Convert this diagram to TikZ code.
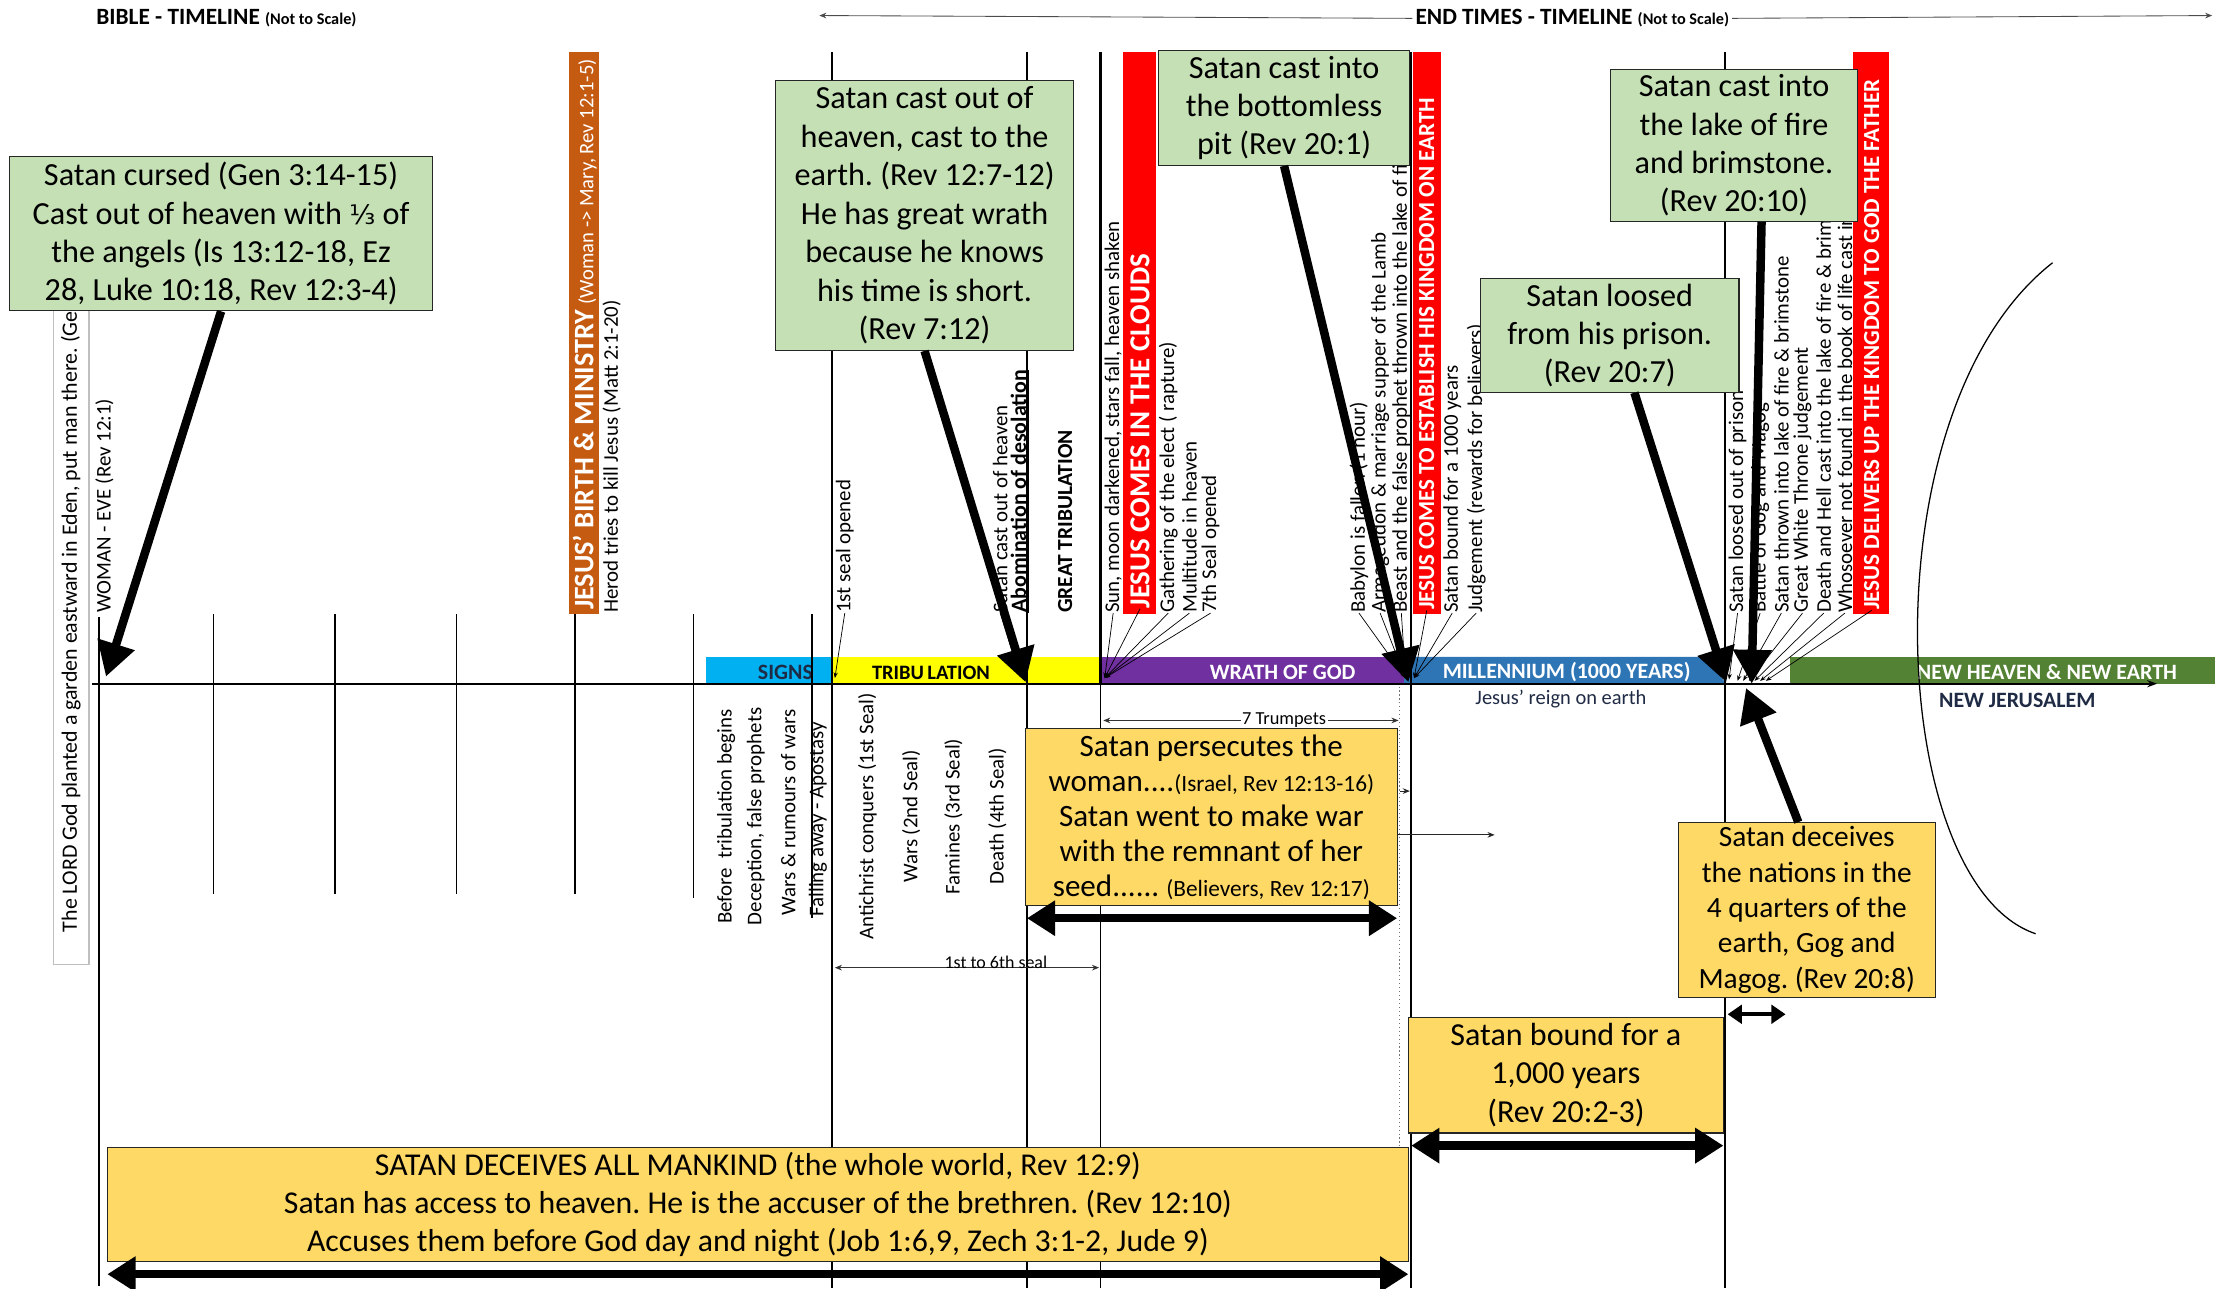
\documentclass[tikz,border=0pt]{standalone}
\usepackage{fontspec}
\setmainfont{Carlito}
\newfontfamily\symfont{DejaVu Sans}
\usetikzlibrary{arrows.meta}
\definecolor{gboxc}{HTML}{C5E0B4}
\definecolor{yboxc}{HTML}{FFD966}
\definecolor{redbar}{HTML}{FF0000}
\definecolor{orangebar}{HTML}{C55A11}
\definecolor{signsc}{HTML}{00B0F0}
\definecolor{tribc}{HTML}{FFFF00}
\definecolor{wrathc}{HTML}{7030A0}
\definecolor{millc}{HTML}{2E75B6}
\definecolor{newc}{HTML}{548235}
\definecolor{navyt}{HTML}{1F2A44}
\newcommand{\myfs}[2]{\fontsize{#1}{#2}\selectfont}
\tikzset{
  gbox/.style={draw=black!85, line width=0.8pt, fill=gboxc, align=center, inner sep=0pt, font=\myfs{22.8}{27.2}},
  ybox/.style={draw=black!85, line width=0.8pt, fill=yboxc, align=center, inner sep=0pt},
  vlab/.style={rotate=90, anchor=west, inner sep=0pt, font=\myfs{14.8}{15}},
  clab/.style={rotate=90, anchor=center, inner sep=0pt, font=\myfs{14.8}{15}},
  barlab/.style={rotate=90, anchor=west, inner sep=0pt, text=white, font=\bfseries\myfs{16.3}{17}},
  bandlab/.style={inner sep=0pt, font=\bfseries\myfs{15.5}{16}},
  tline/.style={line width=1.1pt},
  leader/.style={line width=0.5pt, -{Stealth[length=4pt,width=3pt]}},
  bigarrow/.style={line width=6pt, -{Triangle[length=24pt,width=26pt]}},
  bigdbl/.style={line width=6pt, {Triangle[length=20pt,width=24pt]}-{Triangle[length=20pt,width=24pt]}},
  smalldbl/.style={line width=3pt, {Triangle[length=10pt,width=13pt]}-{Triangle[length=10pt,width=13pt]}},
  dimline/.style={line width=0.6pt, black!80, {Stealth[length=5pt,width=4pt]}-{Stealth[length=5pt,width=4pt]}},
  thinarrow/.style={line width=0.6pt, black!85, -{Stealth[length=5pt,width=4pt]}},
}
\begin{document}
\frenchspacing
\begin{tikzpicture}[x=1pt,y=-1pt]
\useasboundingbox (0,0) rectangle (1568,912);

% ---------- titles ----------
\node[anchor=west, inner sep=0pt, font=\bfseries\myfs{16.5}{17}] (t1) at (68,13) {BIBLE - TIMELINE {\myfs{11.5}{12}(Not to Scale)}};
\node[inner sep=2pt, font=\bfseries\myfs{16.5}{17}] (t2) at (1113,13) {END TIMES - TIMELINE {\myfs{11.5}{12}(Not to Scale)}};
\coordinate (tl) at (580,11);
\coordinate (tr) at (1566,11);
\draw[thinarrow, black!70] (t2.west) -- (tl);
\draw[thinarrow, black!70] (t2.east) -- (tr);

% ---------- bands ----------
\fill[signsc] (500,465) rectangle (590,484);
\fill[tribc] (590,465) rectangle (779,484);
\fill[wrathc] (779,465) rectangle (994,484);
\fill[millc] (994,465) -- (1207,465) -- (1222,484) -- (994,484) -- cycle;
\fill[newc] (1267,465) rectangle (1568,484);
\node[bandlab, text=navyt] (bs) at (556,476) {SIGNS};
\node[bandlab, font=\bfseries\myfs{14.5}{15}] (bt) at (659,476) {TRIBU\,LATION};
\node[bandlab, text=white] (bw) at (908,476) {WRATH OF GOD};
\node[bandlab, text=white] (bm) at (1109,476) {MILLENNIUM (1000 YEARS)};
\node[bandlab, text=white] (bn) at (1449,476) {NEW HEAVEN \& NEW EARTH};
\node[inner sep=0pt, text=navyt, font=\myfs{14.5}{15}] (jr) at (1105,495) {Jesus' reign on earth};
\node[inner sep=0pt, text=navyt, font=\bfseries\myfs{15.5}{16}] (nj) at (1428,496) {NEW JERUSALEM};

% ---------- vertical lines ----------
\draw[tline] (70,437) -- (70,910);
\foreach \xx/\yy in {151/633, 237/633, 323/633, 407/633, 491/636, 575/650}
  \draw[tline] (\xx,435) -- (\xx,\yy);
\draw[tline] (589,37) -- (589,912);
\draw[tline] (727,37) -- (727,912);
\draw[line width=1.8pt] (779,37) -- (779,484);
\draw[tline] (779,484) -- (779,912);
\draw[tline] (999,37) -- (999,912);
\draw[tline] (1221,37) -- (1221,912);
\draw[black!55, line width=0.8pt, dotted] (991,486) -- (991,812);

% ---------- main axis ----------
\coordinate (axs) at (65,484);
\coordinate (axe) at (1527,484);
\draw[line width=1.2pt, -{Stealth[length=7pt,width=5pt]}] (axs) -- (axe);

% ---------- bars ----------
\fill[orangebar] (403,37) rectangle (424,435);
\fill[redbar] (795,37) rectangle (818,435);
\fill[redbar] (1000,37) rectangle (1020,435);
\fill[redbar] (1312,37) rectangle (1337,435);
\node[barlab] (bj) at (414,432) {{\myfs{20}{20}JESUS' BIRTH \& MINISTRY} {\mdseries\myfs{14.6}{15}(Woman -> Mary, Rev 12:1-5)}};
\node[barlab, font=\bfseries\myfs{20.5}{21}] (rc1) at (807,431) {JESUS COMES IN THE CLOUDS};
\node[barlab] (rc2) at (1010,432) {JESUS COMES TO ESTABLISH HIS KINGDOM ON EARTH};
\node[barlab] (rc3) at (1325,432) {JESUS DELIVERS UP THE KINGDOM TO GOD THE FATHER};

% ---------- left text box ----------
\draw[black!25, line width=0.8pt, fill=white] (38,215) rectangle (63,683);
\node[vlab, font=\myfs{15.5}{16}] (lb0) at (50,660) {The LORD God planted a garden eastward in Eden, put man there. (Gen 2:8)};
\node[vlab] (lb1) at (74,434) {WOMAN - EVE (Rev 12:1)};
\node[vlab] (lb3) at (433,434) {Herod tries to kill Jesus (Matt 2:1-20)};

% ---------- labels above axis ----------
\node[vlab] (la1) at (598,434) {1st seal opened};
\node[vlab] (la2) at (708,434) {Satan cast out of heaven};
\node[vlab, font=\bfseries\myfs{15.5}{16}] (la3) at (722,434) {\underline{Abomination of desolation}};
\node[vlab, font=\bfseries\myfs{15.2}{16}] (la4) at (754,434) {GREAT TRIBULATION};
\node[vlab] (la5) at (788,434) {Sun, moon darkened, stars fall, heaven shaken};
\node[vlab] (la7) at (827,434) {Gathering of the elect ( rapture)};
\node[vlab] (la8) at (842,434) {Multitude in heaven};
\node[vlab] (la9) at (857,434) {7th Seal opened};
\node[vlab] (la10) at (962,434) {Babylon is fallen (1 hour)};
\node[vlab] (la11) at (977,434) {Armageddon \& marriage supper of the Lamb};
\node[vlab] (la12) at (992,434) {Beast and the false prophet thrown into the lake of fire};
\node[vlab] (la14) at (1028,434) {Satan bound for a 1000 years};
\node[vlab] (la15) at (1045,434) {Judgement (rewards for believers)};
\node[vlab] (la16) at (1230,434) {Satan loosed out of prison};
\node[vlab] (la17) at (1246,434) {Battle of Gog and Magog};
\node[vlab] (la18) at (1261,434) {Satan thrown into lake of fire \& brimstone};
\node[vlab] (la19) at (1276,434) {Great White Throne judgement};
\node[vlab] (la20) at (1291,434) {Death and Hell cast into the lake of fire \& brimstone};
\node[vlab] (la21) at (1306,434) {Whosoever not found in the book of life cast into};

% leader lines
\coordinate (p589) at (591,480);
\coordinate (p722) at (722,479);
\coordinate (p781) at (782,480);
\coordinate (p995) at (995,480);
\coordinate (p1001) at (1001,480);
\coordinate (p1224) at (1224,481);
\draw[leader] (la1.west) -- (p589);
\draw[leader] (la2.west) -- (p722);
\foreach \n in {la5,rc1,la7,la8,la9} \draw[leader] (\n.west) -- (p781);
\foreach \n in {la10,la11,la12} \draw[leader] (\n.west) -- (p995);
\foreach \n in {rc2,la14,la15} \draw[leader] (\n.west) -- (p1001);
\draw[leader] (la16.west) -- (p1224);
\coordinate (q1) at (1230,482);
\coordinate (q2) at (1234,482);
\coordinate (q3) at (1238,482);
\coordinate (q4) at (1242,482);
\coordinate (q5) at (1246,482);
\coordinate (q6) at (1250,482);
\draw[leader] (la17.west) -- (q1);
\draw[leader] (la18.west) -- (q2);
\draw[leader] (la19.west) -- (q3);
\draw[leader] (la20.west) -- (q4);
\draw[leader] (la21.west) -- (q5);
\draw[leader] (rc3.west) -- (q6);

% ---------- labels below axis ----------
\node[clab] (lc1) at (514,578) {Before~ tribulation begins};
\node[clab] (lc2) at (535,578) {Deception, false prophets};
\node[clab] (lc3) at (558,575) {Wars \& rumours of wars};
\node[clab] (lc4) at (579,580) {Falling away - Apostasy};
\node[clab] (lc5) at (614,578) {Antichrist conquers (1st Seal)};
\node[clab] (lc6) at (645,578) {Wars (2nd Seal)};
\node[clab] (lc7) at (675,578) {Famines (3rd Seal)};
\node[clab] (lc8) at (706,578) {Death (4th Seal)};

% ---------- dimension lines ----------
\coordinate (tw1) at (781,510);
\coordinate (tw2) at (990,510);
\draw[dimline] (tw1) -- (tw2);
\node[fill=white, inner sep=1pt, font=\myfs{13}{14}] (twl) at (909,510) {7 Trumpets};
\coordinate (sl1) at (591,685);
\coordinate (sl2) at (778,685);
\draw[dimline] (sl1) -- (sl2);
\node[inner sep=0pt, font=\myfs{12.7}{13}] (sll) at (705,681) {1st to 6th seal};
\coordinate (sa1) at (991,560);
\coordinate (sa2) at (998,560);
\draw[thinarrow] (sa1) -- (sa2);

% ---------- curve ----------
\draw[line width=0.9pt] (1453,186) .. controls (1320,290) and (1335,625) .. (1441,661);

% ---------- boxes ----------
\node[gbox, minimum width=299, minimum height=109] (b1) at (156.5,165.5)
  {Satan cursed (Gen 3:14-15)\\ Cast out of heaven with {\symfont\myfs{19}{27}⅓} of\\ the angels (Is 13:12-18, Ez\\ 28, Luke 10:18, Rev 12:3-4)};
\node[gbox, minimum width=211, minimum height=191] (b2) at (654.5,152.5)
  {Satan cast out of\\ heaven, cast to the\\ earth. (Rev 12:7-12)\\ He has great wrath\\ because he knows\\ his time is short.\\ (Rev 7:12)};
\node[gbox, minimum width=178, minimum height=81] (b3) at (909,76.5)
  {Satan cast into\\ the bottomless\\ pit (Rev 20:1)};
\node[gbox, minimum width=175, minimum height=108] (b4) at (1227.5,103)
  {Satan cast into\\ the lake of fire\\ and brimstone.\\ (Rev 20:10)};
\node[gbox, minimum width=183, minimum height=81] (b5) at (1139.5,237.5)
  {Satan loosed\\ from his prison.\\ (Rev 20:7)};
\node[ybox, minimum width=263, minimum height=125, font=\myfs{22}{24.8}] (b6) at (857.5,578.5)
  {Satan persecutes the\\ woman....{\myfs{16.5}{20}(Israel, Rev 12:13-16)}\\ Satan went to make war\\ with the remnant of her\\ seed...... {\myfs{16.5}{20}(Believers, Rev 12:17)}};
\node[ybox, minimum width=182, minimum height=124, font=\myfs{20.8}{25}] (b7) at (1279,644)
  {Satan deceives\\ the nations in the\\ 4 quarters of the\\ earth, Gog and\\ Magog. (Rev 20:8)};
\node[ybox, minimum width=223, minimum height=82, font=\myfs{22.7}{27}] (b8) at (1108.5,761)
  {Satan bound for a\\ 1,000 years\\ (Rev 20:2-3)};
\node[ybox, minimum width=921, minimum height=81, font=\myfs{22.5}{27}] (b9) at (536.5,852.5)
  {SATAN DECEIVES ALL MANKIND (the whole world, Rev 12:9)\\ Satan has access to heaven. He is the accuser of the brethren. (Rev 12:10)\\ Accuses them before God day and night (Job 1:6,9, Zech 3:1-2, Jude 9)};

\coordinate (pa1) at (989,591);
\coordinate (pa2) at (1058,591);
\draw[thinarrow] (pa1) -- (pa2);

% ---------- big arrows ----------
\coordinate (a1t) at (75,479);
\coordinate (a2t) at (726,483);
\coordinate (a3t) at (997,483);
\coordinate (a4s) at (1247,157);
\coordinate (a4t) at (1240,484);
\coordinate (a5s) at (1157,278);
\coordinate (a5t) at (1222,483);
\coordinate (a7s) at (1273,582);
\coordinate (a7t) at (1236,487);
\draw[bigarrow] (b1.south) -- (a1t);
\draw[bigarrow] (b2.south) -- (a2t);
\draw[bigarrow] (b3.south) -- (a3t);
\draw[bigarrow] (a4s) -- (a4t);
\draw[bigarrow] (a5s) -- (a5t);
\draw[bigarrow] (a7s) -- (a7t);

\coordinate (d6a) at (727,650);
\coordinate (d6b) at (989,650);
\draw[bigdbl] (d6a) -- (d6b);
\coordinate (d8a) at (999,811);
\coordinate (d8b) at (1220,811);
\draw[bigdbl] (d8a) -- (d8b);
\coordinate (d9a) at (76,902);
\coordinate (d9b) at (997,902);
\draw[bigdbl] (d9a) -- (d9b);
\coordinate (d7a) at (1223,718);
\coordinate (d7b) at (1264,718);
\draw[smalldbl] (d7a) -- (d7b);
\end{tikzpicture}
\end{document}
